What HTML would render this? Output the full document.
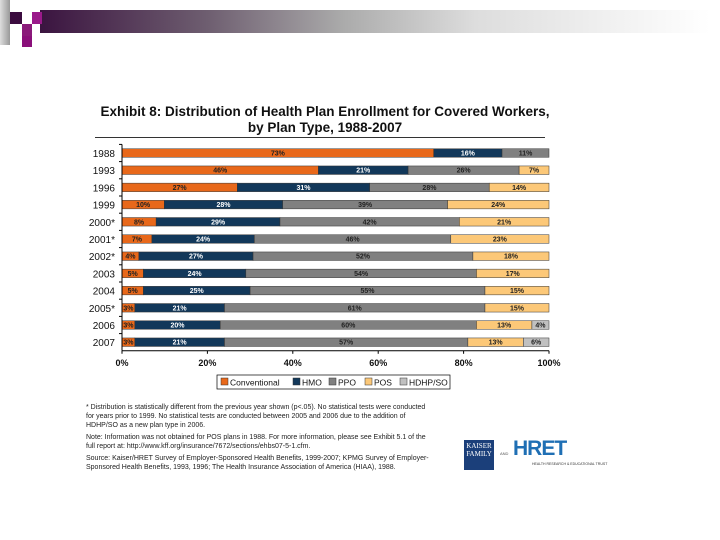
<!DOCTYPE html>
<html><head><meta charset="utf-8"><style>
body{margin:0;width:720px;height:540px;background:#fff;position:relative;overflow:hidden;font-family:"Liberation Sans",sans-serif}
.abs{position:absolute}
.fn{position:absolute;left:86px;font-size:7px;color:#222;line-height:9px;width:345px}
</style></head><body>
<div class="abs" style="left:40px;top:10px;width:670px;height:23px;background:linear-gradient(to right,#3b1440,#6e5e70 25%,#aaa 45%,#ddd 65%,#fff 100%)"></div>
<div class="abs" style="left:0;top:0;width:10px;height:45px;background:linear-gradient(to right,#ddd,#999)"></div>
<div class="abs" style="left:10px;top:12px;width:12px;height:12px;background:#3b0c3f"></div>
<div class="abs" style="left:22px;top:24px;width:10px;height:12px;background:#8a1a7a"></div>
<div class="abs" style="left:22px;top:36px;width:10px;height:11px;background:#8a0f7a"></div>
<div class="abs" style="left:32px;top:12px;width:10px;height:12px;background:#9a1a8a"></div>
<div class="abs" style="left:80px;top:104px;width:490px;text-align:center;font-weight:bold;font-size:13.5px;line-height:16px;color:#111">Exhibit 8: Distribution of Health Plan Enrollment for Covered Workers,<br>by Plan Type, 1988-2007</div>
<div class="abs" style="left:95px;top:137px;width:450px;height:1px;background:#333"></div>
<svg class="abs" style="left:0;top:0" width="720" height="540" id="chart"></svg>
<div class="fn" style="top:403px">* Distribution is statistically different from the previous year shown (p&lt;.05). No statistical tests were conducted for years prior to 1999. No statistical tests are conducted between 2005 and 2006 due to the addition of HDHP/SO as a new plan type in 2006.</div>
<div class="fn" style="top:433px">Note: Information was not obtained for POS plans in 1988. For more information, please see Exhibit 5.1 of the full report at: http://www.kff.org/insurance/7672/sections/ehbs07-5-1.cfm.</div>
<div class="fn" style="top:454px">Source: Kaiser/HRET Survey of Employer-Sponsored Health Benefits, 1999-2007; KPMG Survey of Employer-Sponsored Health Benefits, 1993, 1996; The Health Insurance Association of America (HIAA), 1988.</div>
<div class="abs" style="left:464px;top:440px;width:30px;height:30px;background:#1b3f7a;color:#fff;font-family:'Liberation Serif',serif;font-size:7px;line-height:8px;text-align:center;padding-top:2px;box-sizing:border-box">KAISER<br>FAMILY</div>
<div class="abs" style="left:500px;top:451px;font-size:4px;color:#555">AND</div>
<div class="abs" style="left:513px;top:437px;font-size:21px;font-weight:bold;color:#1f6fb4;letter-spacing:-1px">HRET</div>
<div class="abs" style="left:532px;top:462px;font-size:3.5px;color:#333">HEALTH RESEARCH &amp; EDUCATIONAL TRUST</div>
<script>
const years=["1988","1993","1996","1999","2000*","2001*","2002*","2003","2004","2005*","2006","2007"];
const conventional=[73,46,27,10,8,7,4,5,5,3,3,3];
const hmo=[16,21,31,28,29,24,27,24,25,21,20,21];
const ppo=[11,26,28,39,42,46,52,54,55,61,60,57];
const pos=[0,7,14,24,21,23,18,17,15,15,13,13];
const hdhp=[0,0,0,0,0,0,0,0,0,0,4,6];
const xTicks=[0,20,40,60,80,100];
const series=[["Conventional",conventional,"#e8681a","#222"],["HMO",hmo,"#12385a","#fff"],["PPO",ppo,"#808080","#222"],["POS",pos,"#fcc878","#222"],["HDHP/SO",hdhp,"#c0c0c0","#222"]];
const NS="http://www.w3.org/2000/svg",svg=document.getElementById('chart');
const x0=122,x1=549,yTop=153,step=17.2,bh=8.5;
const xs=v=>x0+(x1-x0)*v/100, ys=i=>yTop+i*step;
function el(t,a){const e=document.createElementNS(NS,t);for(const k in a)e.setAttribute(k,a[k]);svg.appendChild(e);return e;}
years.forEach((yr,i)=>{
 let tot=0;series.forEach(s=>tot+=s[1][i]);
 let acc=0;const cy=ys(i);
 series.forEach(s=>{const v=s[1][i];if(!v)return;
  const xa=xs(acc/tot*100),xb=xs((acc+v)/tot*100);acc+=v;
  const r=el('rect',{x:xa,y:cy-bh/2,width:xb-xa,height:bh,fill:s[2],stroke:'#333','stroke-width':0.5});
  
  
  const t=el('text',{x:(xa+xb)/2,y:cy+2.5,'text-anchor':'middle','font-size':7,'font-weight':'bold',fill:s[3]});
  t.textContent=v+'%';
  
  
 });
 const yl=el('text',{x:115,y:cy+4,'text-anchor':'end','font-size':10,fill:'#111'});
 yl.textContent=yr;
 
 
 const tk=el('line',{x1:x0-3,x2:x0,y1:cy-step/2,y2:cy-step/2,stroke:'#000','stroke-width':1});
 
 
});
const ya=el('line',{x1:x0,x2:x0,y1:ys(0)-step/2,y2:ys(years.length-1)+step/2,stroke:'#000','stroke-width':1});


const axY=ys(years.length-1)+step/2;
const xa=el('line',{x1:x0,x2:x1,y1:axY,y2:axY,stroke:'#000','stroke-width':1});


xTicks.forEach(v=>{
 const l=el('line',{x1:xs(v),x2:xs(v),y1:axY,y2:axY+3,stroke:'#000'});
 
 
 const t=el('text',{x:xs(v),y:axY+15,'text-anchor':'middle','font-size':9,'font-weight':'bold',fill:'#111'});
 t.textContent=v+'%';
 
 
});
const lg=el('rect',{x:217,y:375,width:233,height:14,fill:'#fff',stroke:'#000','stroke-width':0.7});


const lx=[221,293,329,365,400];
series.forEach((s,k)=>{
 const r=el('rect',{x:lx[k],y:378,width:7,height:7,fill:s[2],stroke:'#333','stroke-width':0.5});
 
 
 const t=el('text',{x:lx[k]+9,y:385.5,'font-size':8.5,fill:'#111'});
 t.textContent=s[0];
 
 
});
</script>
</body></html>
